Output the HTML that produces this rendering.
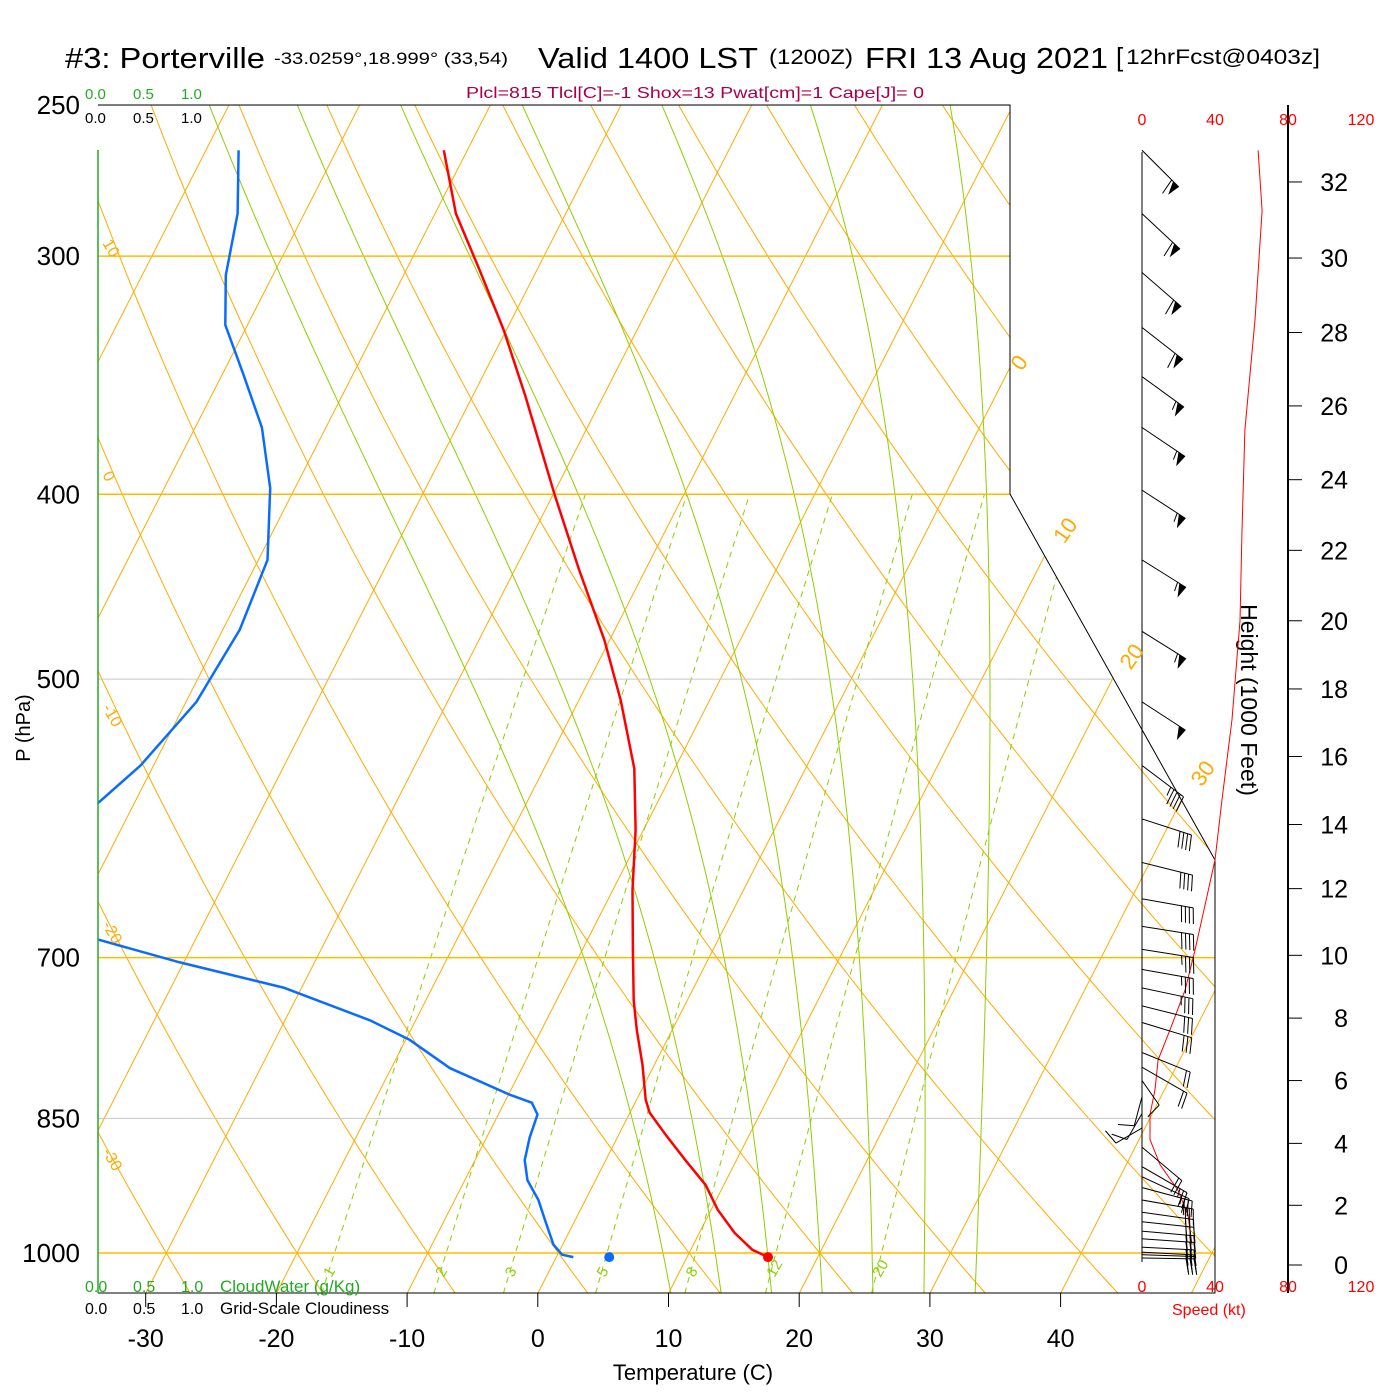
<!DOCTYPE html>
<html><head><meta charset="utf-8"><style>
html,body{margin:0;padding:0;background:#fff;}
svg{display:block;font-family:"Liberation Sans",sans-serif;}
</style></head><body>
<svg id="chart" width="1400" height="1400" viewBox="0 0 1400 1400" xmlns="http://www.w3.org/2000/svg">
<defs><clipPath id="plotclip"><polygon points="98,105 1010,105 1010,494 1215,860 1215,1293 98,1293"/></clipPath></defs>
<g id="title">
<text x="65" y="68" font-size="29" textLength="200" lengthAdjust="spacingAndGlyphs">#3: Porterville</text>
<text x="274" y="64" font-size="17" textLength="234" lengthAdjust="spacingAndGlyphs">-33.0259°,18.999° (33,54)</text>
<text x="538" y="68" font-size="29" textLength="220" lengthAdjust="spacingAndGlyphs">Valid 1400 LST</text>
<text x="769" y="64" font-size="21" textLength="84" lengthAdjust="spacingAndGlyphs">(1200Z)</text>
<text x="865" y="68" font-size="29" textLength="243" lengthAdjust="spacingAndGlyphs">FRI 13 Aug 2021</text>
<text x="1116" y="66" font-size="26">[</text>
<text x="1126" y="64" font-size="21" textLength="194" lengthAdjust="spacingAndGlyphs">12hrFcst@0403z]</text>
</g>
<text x="695" y="98" font-size="16" fill="#a8004c" text-anchor="middle" textLength="458" lengthAdjust="spacingAndGlyphs">Plcl=815 Tlcl[C]=-1 Shox=13 Pwat[cm]=1 Cape[J]= 0</text>
<g id="grid" clip-path="url(#plotclip)"></g>
<g id="series" clip-path="url(#plotclip)"></g>
<g id="frame"></g>
<g id="labels"></g>
<g id="wind"></g>
</svg>
<script>
// ---- data ----
const pressureTicks = [250,300,400,500,700,850,1000];
const tempTicks = [-30,-20,-10,0,10,20,30,40];
const heightTicksKft = [0,2,4,6,8,10,12,14,16,18,20,22,24,26,28,30,32];
const heightTickP = [1014.6,944,876,812,753,698,644,596,549,506,466,428,393,359.5,329,300.7,274.3];
const speedTicks = [0,40,80,120];
const isoLabelT = [0,10,20,30];
const thetaLabel = [10,0,-10,-20,-30];
const mixRatios = [1,2,3,5,8,12,20];
const moistThetaW = [8,12,16,20,24,28,32];
const tempP = [264,285,305,328,355,400,438,477,513,557,600,645,694,737,764,797,831,844,867,894,921,949,976,996,1005];
const tempT = [-51.8,-48.4,-44.4,-40.2,-36.0,-29.9,-25.1,-20.4,-16.8,-13.1,-10.6,-8.5,-6.1,-4.1,-2.7,-0.9,0.7,1.5,3.6,6.1,8.6,10.5,12.7,14.7,16.2];
const dewP = [264,285,307,326,346,369,397,433,471,514,555,581,620,660,685,704,726,755,773,800,826,834,846,870,894,916,938,963,990,1002,1005];
const dewT = [-67.5,-65.1,-63.6,-61.7,-58.4,-54.9,-51.9,-49.3,-48.7,-49.2,-51.0,-52.8,-60,-62,-47.4,-40.3,-31.3,-23.5,-19.7,-15.5,-9.9,-7.9,-7.0,-6.7,-6.2,-5.2,-3.6,-2.2,-0.7,0.35,1.3];
const sfcT = 16.2, sfcTd = 4.05, sfcP = 1005;
const spdP = [264,284,324,370,418,466,525,579,622,657,694,728,764,792,821,846,872,899,927,955,990];
const spdKt = [63.6,65.8,61.9,56.4,54.8,53.7,49.3,43.8,40,34.5,29,23.6,15.3,8.8,7.1,4.4,4.4,9.9,19.7,25.2,27.4];
const barbP = [264,285,306,327,347,369,398,433,472,514,555,592,624,652,674,693,710,726,742,757,785,799,812,828,845,860,880,901,912,924,938,952,963,974,983,993,999,1002,1006];
const barbAng = [45,43,41,38,36,34,33,32,32,33,37,18,14,10,9,9,10,12,14,17,22,30,55,105,120,150,40,30,25,15,10,8,6,5,4,3,3,2,1];
const barbKt = [62,62,60,58,56,55,55,54,53,50,45,42,42,40,38,36,35,33,30,28,22,18,12,8,10,8,22,25,26,28,28,28,28,28,28,28,28,28,28];

// ---- axis functions ----
const NS='http://www.w3.org/2000/svg';
function yOf(p){return 1253+828*Math.log(p/1000);}
function xOf(T,p){return 538+13.07*T+0.51*(1293-yOf(p));}
function spdX(s){return 1142+s*73/40;}
function mk(tag,attrs,parent){const e=document.createElementNS(NS,tag);for(const k in attrs)e.setAttribute(k,attrs[k]);parent.appendChild(e);return e;}
const grid=document.getElementById('grid'),series=document.getElementById('series'),frame=document.getElementById('frame'),labels=document.getElementById('labels'),wind=document.getElementById('wind');
const ORANGE='#ffaa00',GREEN='#8ccf00';
function pts(arr){return arr.map(q=>q[0].toFixed(1)+','+q[1].toFixed(1)).join(' ');}
function esat(Tc){return 6.112*Math.exp(17.67*Tc/(Tc+243.5));}

for(let T=-150;T<=50;T+=10){
  const l=mk('line',{x1:xOf(T,1050),y1:yOf(1050),x2:xOf(T,250),y2:yOf(250),stroke:ORANGE,'stroke-width':1},grid);
  
  
}
for(let th=-40;th<=220;th+=10){
  const a=[];for(let p=1050;p>=250;p-=10){const T=(th+273.15)*Math.pow(p/1000,0.286)-273.15;a.push([xOf(T,p),yOf(p)]);}
  const l=mk('polyline',{points:pts(a),fill:'none',stroke:ORANGE,'stroke-width':1},grid);
  
  
}
function dTdp(T,p){const e=esat(T-273.15);const rs=0.622*e/(p-e);const Rd=287,cp=1005,Lv=2.5e6;
  return (Rd*T+Lv*rs)/(p*(cp+Lv*Lv*rs*0.622/(Rd*T*T)));}
moistThetaW.forEach(tw=>{
  const up=[];let T=tw+273.15;for(let p=1000;p>=250;p-=2){up.push([xOf(T-273.15,p),yOf(p)]);T-=dTdp(T,p)*2;}
  const dn=[];T=tw+273.15;for(let p=1000;p<=1050;p+=2){dn.unshift([xOf(T-273.15,p),yOf(p)]);T+=dTdp(T,p)*2;}
  const l=mk('polyline',{points:pts(dn.concat(up)),fill:'none',stroke:GREEN,'stroke-width':1},grid);
  
  
});
function tdOf(w,p){const e=w*p/(622+w);const L=Math.log(e/6.112);return 243.5*L/(17.67-L);}
mixRatios.forEach(w=>{
  const a=[];for(let p=1050;p>=400;p-=10)a.push([xOf(tdOf(w,p),p),yOf(p)]);
  const l=mk('polyline',{points:pts(a),fill:'none',stroke:GREEN,'stroke-width':1,'stroke-dasharray':'6,5'},grid);
  
  
  const lx=xOf(tdOf(w,1035),1035)+6,ly=1278;
  const t=mk('text',{x:lx,y:ly,fill:GREEN,'font-size':15,transform:`rotate(-60 ${lx} ${ly})`},labels);t.textContent=w;
  
  
});
pressureTicks.forEach(p=>{
  const orange=[300,400,700,1000].includes(p);
  const l=mk('line',{x1:98,x2:1215,y1:yOf(p),y2:yOf(p),stroke:orange?'#ffbb00':'#c8c8c8','stroke-width':orange?1.5:1},grid);
  
  
  const t=mk('text',{x:80,y:yOf(p)+9,'font-size':26,'text-anchor':'end'},labels);t.textContent=p;
  
  
});
function profile(P,T,color,name){
  const a=P.map((p,i)=>[xOf(T[i],p),yOf(p)]);
  const l=mk('polyline',{points:pts(a),fill:'none',stroke:color,'stroke-width':2.5,'stroke-linejoin':'round'},series);
  
  
}
profile(tempP,tempT,'#ff0000','temperature-profile');
profile(dewP,dewT,'#0a6cff','dewpoint-profile');
const d1=mk('circle',{cx:xOf(sfcT,sfcP),cy:yOf(sfcP),r:5,fill:'#ff0000'},series);


const d2=mk('circle',{cx:xOf(sfcTd,sfcP),cy:yOf(sfcP),r:5,fill:'#0a6cff'},series);



const fr=mk('polyline',{points:'98,105 1010,105 1010,494 1215,860 1215,1293 98,1293',fill:'none',stroke:'#000','stroke-width':1},frame);


const gl=mk('line',{x1:98,x2:98,y1:150,y2:1293,stroke:'#22aa22','stroke-width':1.5},frame);


const wl=mk('line',{x1:1142,x2:1142,y1:152,y2:1262,stroke:'#000','stroke-width':1},frame);


const hl=mk('line',{x1:1288,x2:1288,y1:105,y2:1293,stroke:'#000','stroke-width':2},frame);



tempTicks.forEach(T=>{
  const x=xOf(T,1050);
  const k=mk('line',{x1:x,x2:x,y1:1293,y2:1307,stroke:'#000'},frame);
  
  
  const t=mk('text',{x:x,y:1347,'font-size':25,'text-anchor':'middle'},labels);t.textContent=T;
  
  
});
isoLabelT.forEach(T=>{
  const p=[345,425,495,570][isoLabelT.indexOf(T)];
  const x=xOf(T,p)+14,y=yOf(p);
  const t=mk('text',{x:x,y:y,fill:ORANGE,'font-size':22,transform:`rotate(-55 ${x} ${y})`},labels);t.textContent=T;
  
  
});
thetaLabel.forEach((th,i)=>{
  const y=[243,475,708,925,1152][i],x=102;
  const t=mk('text',{x:x,y:y,fill:ORANGE,'font-size':16,transform:`rotate(60 ${x} ${y})`},labels);t.textContent=th;
  
  
});
heightTicksKft.forEach((h,i)=>{
  const y=yOf(heightTickP[i]);
  const k=mk('line',{x1:1288,x2:1302,y1:y,y2:y,stroke:'#000'},frame);
  
  
  const t=mk('text',{x:1348,y:y+9,'font-size':25,'text-anchor':'end'},labels);t.textContent=h;
  
  
});
speedTicks.forEach(s=>{
  [125,1292].forEach(y=>{
    const t=mk('text',{x:spdX(s),y:y,'font-size':16,fill:'#ff0000','text-anchor':'middle'},labels);t.textContent=s;
    
    
  });
});
{
  const a=spdP.map((p,i)=>[spdX(spdKt[i]),yOf(p)]);
  const l=mk('polyline',{points:pts(a),fill:'none',stroke:'#ff0000','stroke-width':1},wind);
  
  
}
barbP.forEach((p,i)=>{
  const ax=1142,ay=yOf(p),a=barbAng[i]*Math.PI/180;
  const ux=Math.cos(a),uy=Math.sin(a),nx=-uy,ny=ux;
  const L=barbKt[i]<15?30:52;
  const ex=ax+L*ux,ey=ay+L*uy;
  const g=mk('g',{},wind);
  
  
  mk('line',{x1:ax,y1:ay,x2:ex,y2:ey,stroke:'#000','stroke-width':1},g);
  let s=barbKt[i],d=0;
  while(s>=47.5){const bx=ex-d*ux,by=ey-d*uy;
    mk('polygon',{points:`${bx},${by} ${bx-8*ux},${by-8*uy} ${bx-2*ux+13*nx},${by-2*uy+13*ny}`,fill:'#000'},g);d+=10;s-=50;}
  while(s>=7.5){const bx=ex-d*ux,by=ey-d*uy;
    mk('line',{x1:bx,y1:by,x2:bx+3*ux+16*nx,y2:by+3*uy+16*ny,stroke:'#000','stroke-width':1},g);d+=4;s-=10;}
  if(s>=2.5){const bx=ex-d*ux,by=ey-d*uy;
    mk('line',{x1:bx,y1:by,x2:bx+2*ux+9*nx,y2:by+2*uy+9*ny,stroke:'#000','stroke-width':1},g);}
});

function addT(x,y,txt,size,fill,extra){const t=document.createElementNS(NS,'text');
  t.setAttribute('x',x);t.setAttribute('y',y);t.setAttribute('font-size',size);t.setAttribute('fill',fill);
  if(extra)for(const k in extra)t.setAttribute(k,extra[k]);t.textContent=txt;labels.appendChild(t);return t;}
let e;
[['0.0',85],['0.5',133],['1.0',181]].forEach(v=>{
  e=addT(v[1],99,v[0],15,'#22aa22');
  
  
  e=addT(v[1],123,v[0],15,'#000');
  
  
  e=addT(v[1],1292,v[0],16,'#22aa22');
  
  
  e=addT(v[1],1314,v[0],16,'#000');
  
  
});
e=addT(220,1292,'CloudWater (g/Kg)',17,'#22aa22');


e=addT(220,1314,'Grid-Scale Cloudiness',17,'#000');


e=addT(1172,1315,'Speed (kt)',16,'#ff0000');


e=addT(693,1380,'Temperature (C)',22,'#000',{'text-anchor':'middle'});


e=addT(30,728,'P (hPa)',20,'#000',{'text-anchor':'middle',transform:'rotate(-90 30 728)'});


e=addT(1241,700,'Height (1000 Feet)',23,'#000',{'text-anchor':'middle',transform:'rotate(90 1241 700)'});


</script>
</body></html>
